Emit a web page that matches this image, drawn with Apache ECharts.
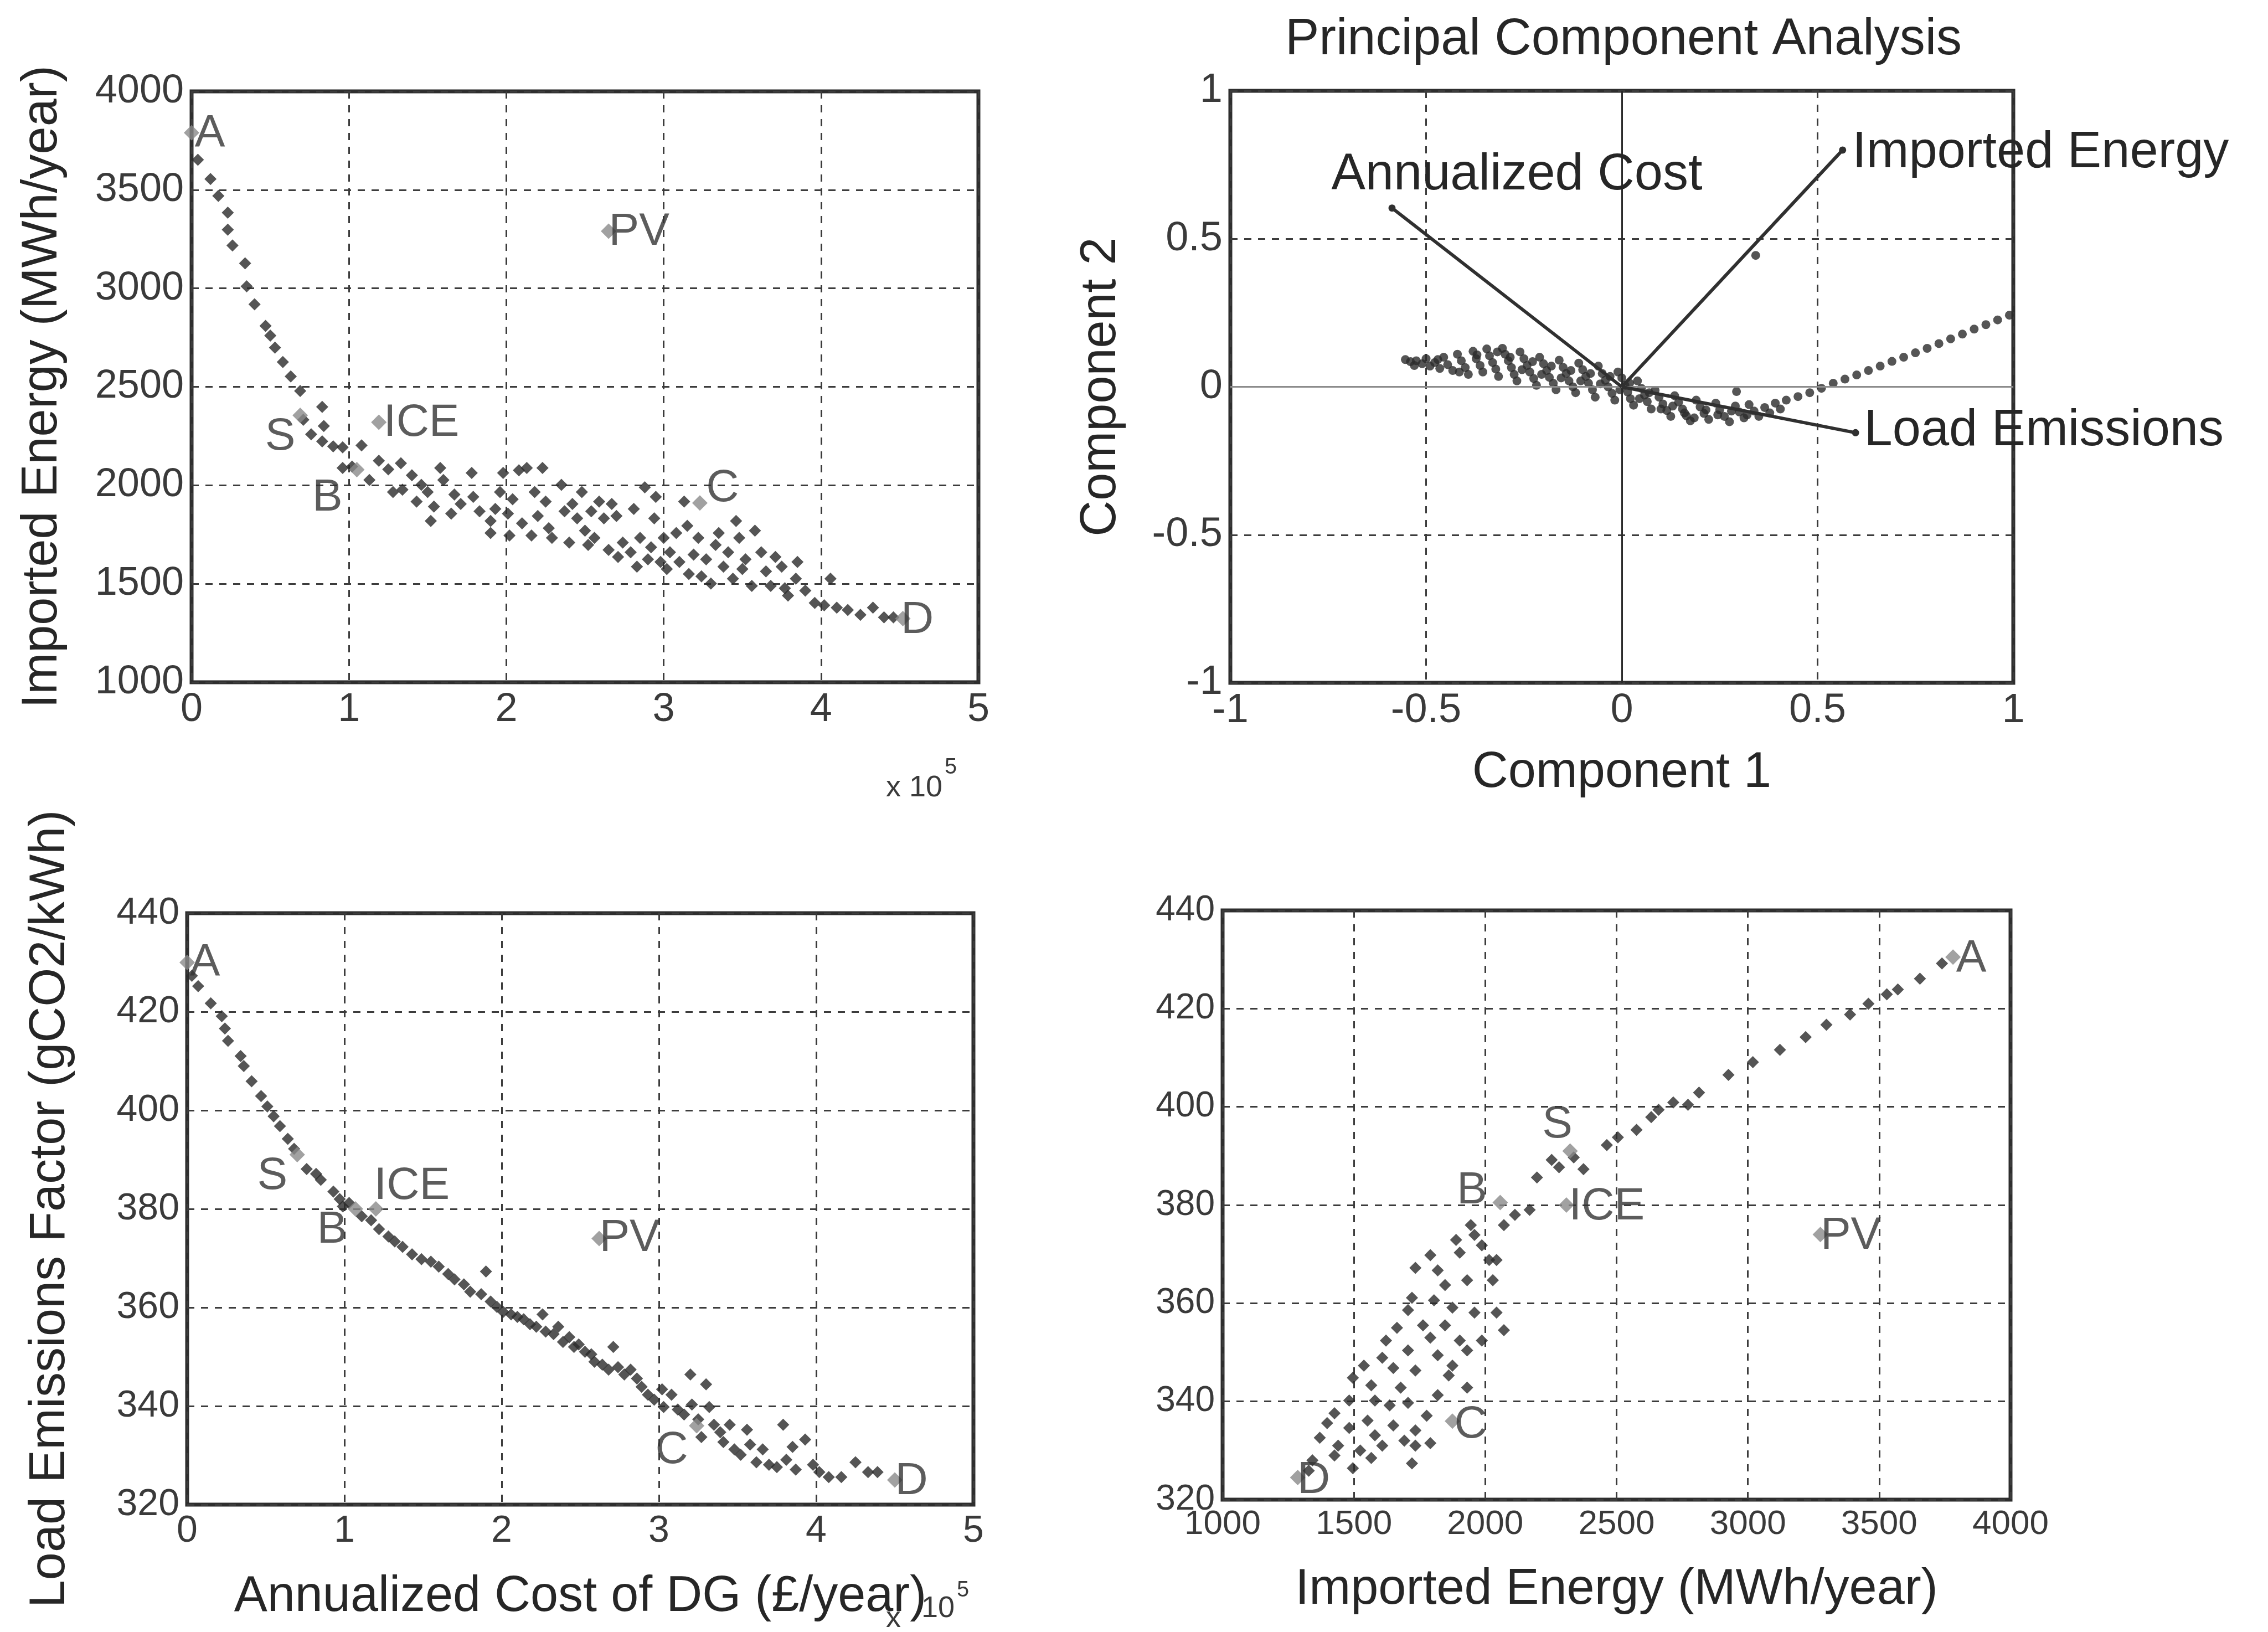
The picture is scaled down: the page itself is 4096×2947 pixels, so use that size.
<!DOCTYPE html>
<html>
<head>
<meta charset="utf-8">
<script src="https://cdn.jsdelivr.net/npm/echarts@6.0.0/dist/echarts.min.js"></script>
<style>
  html, body { margin: 0; padding: 0; background: #ffffff; }
  #chart { width: 4096px; height: 2947px; }
</style>
</head>
<body>
<div id="chart"></div>
<script>
// ---------------------------------------------------------------------------
// Data: annualized DG cost (in units of 10^5 £/year), imported energy
// (MWh/year) and load emissions factor (gCO2/kWh) of the candidate plans.
// ---------------------------------------------------------------------------

// Cost [1e5 £/yr] vs imported energy [MWh/yr]
const costEnergyDots = [
  [0.04,3653],[0.12,3555],[0.17,3469],[0.23,3384],[0.23,3298],[0.26,3218],[0.34,3127],[0.35,3010],
  [0.40,2919],[0.47,2809],[0.50,2760],[0.53,2699],[0.58,2626],[0.63,2553],[0.69,2479],[0.71,2333],
  [0.76,2259],[0.83,2398],[0.84,2301],[0.83,2223],[0.90,2198],[0.96,2193],[1.08,2203],[0.96,2088],
  [1.02,2095],[1.13,2027],[1.19,2125],[1.25,2081],[1.28,1966],[1.33,2112],[1.34,1978],[1.40,2051],
  [1.43,1917],[1.46,2002],[1.50,1966],[1.52,1819],[1.54,1892],[1.58,2088],[1.60,2027],[1.65,1856],
  [1.67,1953],[1.71,1905],[1.78,2063],[1.79,1941],[1.83,1868],[1.90,1819],[1.90,1758],[1.93,1880],
  [1.96,1966],[1.98,2063],[2.01,1856],[2.02,1745],[2.04,1929],[2.08,2076],[2.10,1807],[2.13,2088],
  [2.16,1745],[2.18,1966],[2.20,1844],[2.23,2088],[2.25,1917],[2.27,1782],[2.29,1733],[2.35,2002],
  [2.37,1868],[2.40,1709],[2.42,1905],[2.45,1832],[2.48,1966],[2.50,1770],[2.52,1697],[2.54,1868],
  [2.56,1733],[2.59,1917],[2.62,1832],[2.65,1672],[2.67,1905],[2.70,1844],[2.71,1636],[2.74,1709],
  [2.79,1660],[2.81,1880],[2.83,1587],[2.85,1733],[2.88,1990],[2.90,1624],[2.92,1685],[2.94,1832],
  [2.95,1941],[2.98,1611],[3.00,1733],[3.02,1575],[3.04,1660],[3.08,1758],[3.10,1611],[3.13,1917],
  [3.15,1794],[3.16,1550],[3.19,1648],[3.22,1733],[3.24,1538],[3.27,1624],[3.30,1501],[3.33,1697],
  [3.35,1758],[3.38,1587],[3.41,1660],[3.44,1526],[3.46,1819],[3.48,1733],[3.50,1575],[3.52,1624],
  [3.56,1489],[3.58,1770],[3.62,1660],[3.65,1563],[3.68,1489],[3.71,1636],[3.75,1587],[3.77,1477],
  [3.79,1440],[3.84,1526],[3.85,1611],[3.90,1465],[3.96,1403],[4.02,1391],[4.06,1526],[4.10,1379],
  [4.17,1367],[4.25,1342],[4.33,1379],[4.40,1330],[4.46,1330]
];

// Cost [1e5 £/yr] vs load emissions factor [gCO2/kWh]
const costEmissionDots = [
  [0.03,427.3],[0.07,425.2],[0.15,421.7],[0.22,419.1],[0.24,416.6],[0.26,414.1],[0.34,411.0],[0.36,409.0],
  [0.41,405.9],[0.47,402.9],[0.51,400.8],[0.55,398.8],[0.59,396.8],[0.64,394.2],[0.68,392.2],[0.76,388.1],
  [0.82,387.1],[0.85,385.9],[0.93,383.5],[0.97,382.0],[0.99,380.5],[1.03,381.2],[1.11,378.5],[1.17,377.7],
  [1.22,375.9],[1.28,374.4],[1.32,373.4],[1.37,372.3],[1.43,370.8],[1.49,369.8],[1.55,369.3],[1.60,368.3],
  [1.66,366.8],[1.70,365.7],[1.76,364.7],[1.80,363.2],[1.90,367.3],[1.87,362.7],[1.93,361.2],[1.97,360.1],
  [2.01,359.1],[2.06,358.6],[2.10,358.1],[2.14,357.6],[2.18,356.6],[2.22,356.1],[2.26,358.6],[2.28,355.1],
  [2.33,354.6],[2.36,356.1],[2.39,353.0],[2.43,354.0],[2.46,352.0],[2.49,352.5],[2.53,351.0],[2.57,350.5],
  [2.59,349.0],[2.64,348.4],[2.68,347.4],[2.71,352.0],[2.74,347.9],[2.78,346.4],[2.82,347.4],[2.86,345.6],
  [2.89,343.9],[2.93,342.3],[2.97,341.3],[3.02,343.4],[3.03,339.8],[3.08,342.3],[3.12,339.3],[3.16,338.3],
  [3.20,346.4],[3.21,340.3],[3.25,337.3],[3.27,333.7],[3.30,344.4],[3.32,339.8],[3.35,336.2],[3.39,334.7],
  [3.41,332.7],[3.45,336.2],[3.48,331.2],[3.52,330.1],[3.56,335.2],[3.58,332.2],[3.62,328.6],[3.66,331.2],
  [3.70,328.1],[3.75,327.6],[3.79,336.2],[3.81,329.1],[3.85,331.7],[3.87,327.1],[3.93,333.2],[3.98,328.1],
  [4.02,326.6],[4.08,325.6],[4.16,325.6],[4.25,328.6],[4.33,326.6],[4.39,326.6]
];

// Imported energy [MWh/yr] vs load emissions factor [gCO2/kWh]
const energyEmissionDots = [
  [3739,429.2],[3655,426.1],[3571,423.9],[3529,422.9],[3459,421.0],[3389,418.8],[3299,416.7],[3220,414.2],
  [3122,411.6],[3019,409.1],[2926,406.5],[2814,402.9],[2772,400.4],[2716,400.9],[2660,399.4],[2632,397.9],
  [2576,395.3],[2505,393.8],[2463,392.2],[2374,387.3],[2337,389.7],[2281,387.7],[2253,389.2],[2197,385.6],
  [2169,379.0],[2113,378.0],[2071,375.9],[1945,375.9],[1959,373.9],[1889,372.9],[1791,369.8],[1734,367.2],
  [1819,366.7],[1903,370.3],[1987,371.8],[2015,368.8],[2043,368.8],[1931,364.7],[2029,364.7],[1847,363.7],
  [1721,361.1],[1805,360.6],[1875,359.1],[1959,358.1],[2043,358.1],[1706,358.6],[1763,355.5],[1847,355.5],
  [1664,355.0],[1791,353.0],[1903,352.4],[1987,352.4],[2071,354.5],[1622,352.4],[1706,350.4],[1819,349.4],
  [1875,347.3],[1931,350.4],[1608,348.9],[1538,347.3],[1650,346.8],[1734,346.3],[1861,345.3],[1496,344.8],
  [1566,343.3],[1678,342.8],[1819,341.3],[1931,342.8],[1482,340.2],[1580,340.2],[1636,339.2],[1706,339.7],
  [1777,337.1],[1426,337.6],[1552,336.1],[1650,335.1],[1734,334.1],[1398,335.6],[1482,334.6],[1580,333.1],
  [1692,332.0],[1370,332.6],[1440,331.0],[1524,330.0],[1608,331.0],[1734,331.0],[1791,331.5],[1426,329.0],
  [1566,328.5],[1721,327.4],[1342,328.0],[1496,326.4],[1328,325.9]
];

// Reference plans marked by name
const planNames = ['A', 'S', 'B', 'ICE', 'PV', 'C', 'D'];
const planCost = [0.0, 0.69, 1.05, 1.19, 2.65, 3.23, 4.52];          // top panel
const planEnergy = [3790, 2355, 2080, 2320, 3290, 1910, 1323];        // top panel
const planCostB = [0.0, 0.70, 1.07, 1.20, 2.62, 3.24, 4.50];          // lower panel
const planEmission = [430, 391, 380, 380, 374, 336, 325];             // lower panel
const planEnergyB = [3781, 2323, 2057, 2309, 3276, 1875, 1286];       // right panel
const planEmissionB = [430.5, 391, 380.5, 380, 374, 336, 324.5];      // right panel

// Principal component scores of the plans
const pcaScores = [
  [-0.553,0.092],[-0.54,0.085],[-0.525,0.088],[-0.51,0.078],[-0.5,0.095],[-0.49,0.07],[-0.478,0.082],
  [-0.465,0.062],[-0.455,0.1],[-0.445,0.075],[-0.432,0.055],[-0.42,0.11],[-0.41,0.088],[-0.4,0.065],
  [-0.392,0.042],[-0.38,0.12],[-0.372,0.095],[-0.362,0.072],[-0.355,0.05],[-0.345,0.128],[-0.338,0.105],
  [-0.33,0.082],[-0.322,0.06],[-0.315,0.035],[-0.305,0.13],[-0.298,0.11],[-0.29,0.088],[-0.282,0.065],
  [-0.275,0.042],[-0.268,0.02],[-0.26,0.118],[-0.25,0.095],[-0.242,0.072],[-0.235,0.05],[-0.225,0.028],
  [-0.218,0.005],[-0.21,0.1],[-0.2,0.078],[-0.192,0.055],[-0.185,0.032],[-0.175,0.012],[-0.168,-0.01],
  [-0.16,0.09],[-0.15,0.066],[-0.142,0.045],[-0.135,0.02],[-0.125,0.0],[-0.118,-0.02],[-0.11,0.08],
  [-0.1,0.058],[-0.092,0.035],[-0.085,0.012],[-0.075,-0.01],[-0.068,-0.035],[-0.06,0.07],[-0.05,0.045],
  [-0.042,0.022],[-0.035,0.0],[-0.025,-0.022],[-0.018,-0.045],[-0.01,0.05],[0.0,0.03],[0.008,0.005],
  [0.015,-0.018],[0.022,-0.04],[0.03,-0.062],[0.04,0.02],[0.05,-0.005],[0.058,-0.028],[0.065,-0.05],
  [0.075,-0.075],[0.085,-0.012],[0.095,-0.035],[0.105,-0.058],[0.115,-0.08],[0.125,-0.1],[0.135,-0.03],
  [0.145,-0.052],[0.155,-0.075],[0.165,-0.098],[0.175,-0.115],[0.19,-0.045],[0.2,-0.068],[0.21,-0.09],
  [0.222,-0.11],[0.24,-0.055],[0.25,-0.078],[0.262,-0.1],[0.275,-0.118],[0.29,-0.065],[0.293,-0.016],
  [0.3,-0.085],[0.312,-0.105],[0.325,-0.06],[0.338,-0.082],[0.35,-0.1],[0.365,-0.07],[0.378,-0.088],
  [0.392,-0.055],[0.405,-0.075],[0.42,-0.045],[0.45,-0.033],[0.48,-0.02],[0.51,-0.005],[0.54,0.012],
  [0.57,0.026],[0.6,0.04],[0.63,0.055],[0.66,0.07],[0.69,0.086],[0.72,0.1],[0.75,0.115],[0.78,0.13],
  [0.81,0.146],[0.84,0.162],[0.87,0.178],[0.9,0.195],[0.93,0.21],[0.96,0.226],[0.99,0.242],[0.342,0.444],
  [-0.53,0.072],[-0.47,0.092],[-0.415,0.05],[-0.37,0.108],[-0.318,0.118],[-0.285,0.1],[-0.255,0.058],
  [-0.228,0.085],[-0.205,0.042],[-0.18,0.07],[-0.155,0.03],[-0.13,0.055],[-0.105,0.02],[-0.08,0.045],
  [-0.055,0.01],[-0.03,0.035],[-0.005,-0.01],[0.02,0.012],[0.045,-0.04],[0.07,-0.02],[0.1,-0.075],
  [0.13,-0.065],[0.16,-0.088],[0.185,-0.105],[0.215,-0.078],[0.245,-0.095],[0.28,-0.082],[0.32,-0.095]
];

// Variable loadings (component 1, component 2)
const loadingNames = ['Annualized Cost', 'Imported Energy', 'Load Emissions'];
const loadingComp1 = [-0.587, 0.564, 0.597];
const loadingComp2 = [0.604, 0.80, -0.155];

// Axis ranges: [min, max, interval]
const costRange = [0, 5, 1];
const energyRange = [1000, 4000, 500];
const emissionRange = [320, 440, 20];
const componentRange = [-1, 1, 0.5];

// ---------------------------------------------------------------------------
// Styling
// ---------------------------------------------------------------------------
const FONT = "'Liberation Sans', Arial, sans-serif";
const INK = '#262626';
const TICK_INK = '#3a3a3a';
const DOT = '#2a2a2a';
const PLAN_GREY = '#8a8a8a';

// Plan label offsets from the marker centre (px), per panel
const labelOffsets = {
  costEnergy:     { A: [33, 2],  S: [-36, 39], B: [-53, 52], ICE: [77, 2],  PV: [55, 2], C: [41, -26], D: [26, 3] },
  costEmission:   { A: [32, 0],  S: [-45, 39], B: [-42, 38], ICE: [65, -41], PV: [55, 0], C: [-45, 45], D: [30, 3] },
  energyEmission: { A: [33, 3],  S: [-23, -47], B: [-51, -21], ICE: [73, 3], PV: [55, 3], C: [33, 7],  D: [29, 5] }
};

const grids = [
  { left: 346,  top: 165,  width: 1421, height: 1067 },  // cost vs energy
  { left: 2222, top: 164,  width: 1414, height: 1069 },  // PCA
  { left: 338,  top: 1649, width: 1420, height: 1068 },  // cost vs emissions
  { left: 2208, top: 1644, width: 1423, height: 1064 }   // energy vs emissions
].map(g => Object.assign({
  show: true, borderColor: '#2e2e2e', borderWidth: 7, backgroundColor: 'transparent',
  containLabel: false, outerBoundsMode: 'none'
}, g));

function axis(gridIndex, range, tickSize, extra) {
  return Object.assign({
    type: 'value', gridIndex: gridIndex,
    min: range[0], max: range[1], interval: range[2],
    axisLine: { show: false }, axisTick: { show: false },
    axisLabel: {
      fontFamily: FONT, fontSize: tickSize, color: TICK_INK, margin: 14,
      formatter: v => String(v)
    },
    splitLine: { show: true, lineStyle: { color: '#3c3c3c', width: 3, type: [13, 12] } },
    nameTextStyle: { fontFamily: FONT, fontSize: 90, color: INK }
  }, extra || {});
}

function zip(a, b) { return a.map((v, i) => [v, b[i]]); }

function dotSeries(x, y, data) {
  return {
    type: 'scatter', xAxisIndex: x, yAxisIndex: y, data: data,
    symbol: 'diamond', symbolSize: 22,
    itemStyle: { color: DOT }, silent: true, z: 3
  };
}

function planSeries(x, y, xs, ys, offsets) {
  return {
    type: 'scatter', xAxisIndex: x, yAxisIndex: y,
    data: zip(xs, ys).map((v, i) => ({
      value: v, name: planNames[i],
      label: { offset: offsets[planNames[i]] }
    })),
    symbol: 'diamond', symbolSize: 28,
    itemStyle: { color: PLAN_GREY }, silent: true, z: 4,
    label: {
      show: true, position: 'inside', formatter: '{b}',
      fontFamily: FONT, fontSize: 82, color: '#333333'
    }
  };
}

function loadingSeries(i) {
  return {
    type: 'line', xAxisIndex: 1, yAxisIndex: 1, silent: true, z: 5,
    data: [
      { value: [0, 0], symbol: 'none' },
      {
        value: [loadingComp1[i], loadingComp2[i]], name: loadingNames[i],
        label: {
          show: true, position: 'right', formatter: '{b}',
          fontFamily: FONT, fontSize: 92, color: INK,
          offset: [[-121, -59], [6, 6], [4, -3]][i]
        }
      }
    ],
    symbol: 'circle', symbolSize: 13, showSymbol: true,
    lineStyle: { color: '#303030', width: 6 },
    itemStyle: { color: '#303030' }
  };
}

const option = {
  backgroundColor: '#ffffff',
  animation: false,
  title: {
    text: 'Principal Component Analysis',
    left: 2927, top: 22, textAlign: 'center',
    textStyle: { fontFamily: FONT, fontSize: 92, fontWeight: 'normal', color: INK }
  },
  grid: grids,
  xAxis: [
    axis(0, costRange, 72),
    axis(1, componentRange, 74, { name: 'Component 1', nameLocation: 'middle', nameGap: 118 }),
    axis(2, costRange, 68, { name: 'Annualized Cost of DG (£/year)', nameLocation: 'middle', nameGap: 122 }),
    axis(3, energyRange, 62, { name: 'Imported Energy (MWh/year)', nameLocation: 'middle', nameGap: 118 })
  ],
  yAxis: [
    axis(0, energyRange, 72, { name: 'Imported Energy (MWh/year)', nameLocation: 'middle', nameGap: 224 }),
    axis(1, componentRange, 74, { name: 'Component 2', nameLocation: 'middle', nameGap: 188 }),
    axis(2, emissionRange, 68, { name: 'Load Emissions Factor (gCO2/kWh)', nameLocation: 'middle', nameGap: 202 }),
    axis(3, emissionRange, 64)
  ],
  graphic: [
    { type: 'text', left: 1600, top: 1396, style: { text: 'x 10', font: "54px 'Liberation Sans', Arial", fill: TICK_INK } },
    { type: 'text', left: 1706, top: 1366, style: { text: '5', font: "40px 'Liberation Sans', Arial", fill: TICK_INK } },
    { type: 'text', left: 1600, top: 2896, style: { text: 'x', font: "54px 'Liberation Sans', Arial", fill: TICK_INK } },
    { type: 'text', left: 1664, top: 2878, style: { text: '10', font: "54px 'Liberation Sans', Arial", fill: TICK_INK } },
    { type: 'text', left: 1728, top: 2852, style: { text: '5', font: "40px 'Liberation Sans', Arial", fill: TICK_INK } }
  ],
  series: [
    dotSeries(0, 0, costEnergyDots),
    planSeries(0, 0, planCost, planEnergy, labelOffsets.costEnergy),
    {
      type: 'scatter', xAxisIndex: 1, yAxisIndex: 1, data: pcaScores,
      symbol: 'circle', symbolSize: 16, itemStyle: { color: DOT }, silent: true, z: 3,
      markLine: {
        silent: true, symbol: 'none', label: { show: false }, animation: false,
        data: [
          { xAxis: 0, lineStyle: { color: '#2a2a2a', width: 3, type: 'solid' } },
          { yAxis: 0, lineStyle: { color: '#8c8c8c', width: 3, type: 'solid' } }
        ]
      }
    },
    loadingSeries(0), loadingSeries(1), loadingSeries(2),
    dotSeries(2, 2, costEmissionDots),
    planSeries(2, 2, planCostB, planEmission, labelOffsets.costEmission),
    dotSeries(3, 3, energyEmissionDots),
    planSeries(3, 3, planEnergyB, planEmissionB, labelOffsets.energyEmission)
  ]
};

const chart = echarts.init(document.getElementById('chart'), null, { renderer: 'canvas' });
chart.setOption(option);
</script>
</body>
</html>
